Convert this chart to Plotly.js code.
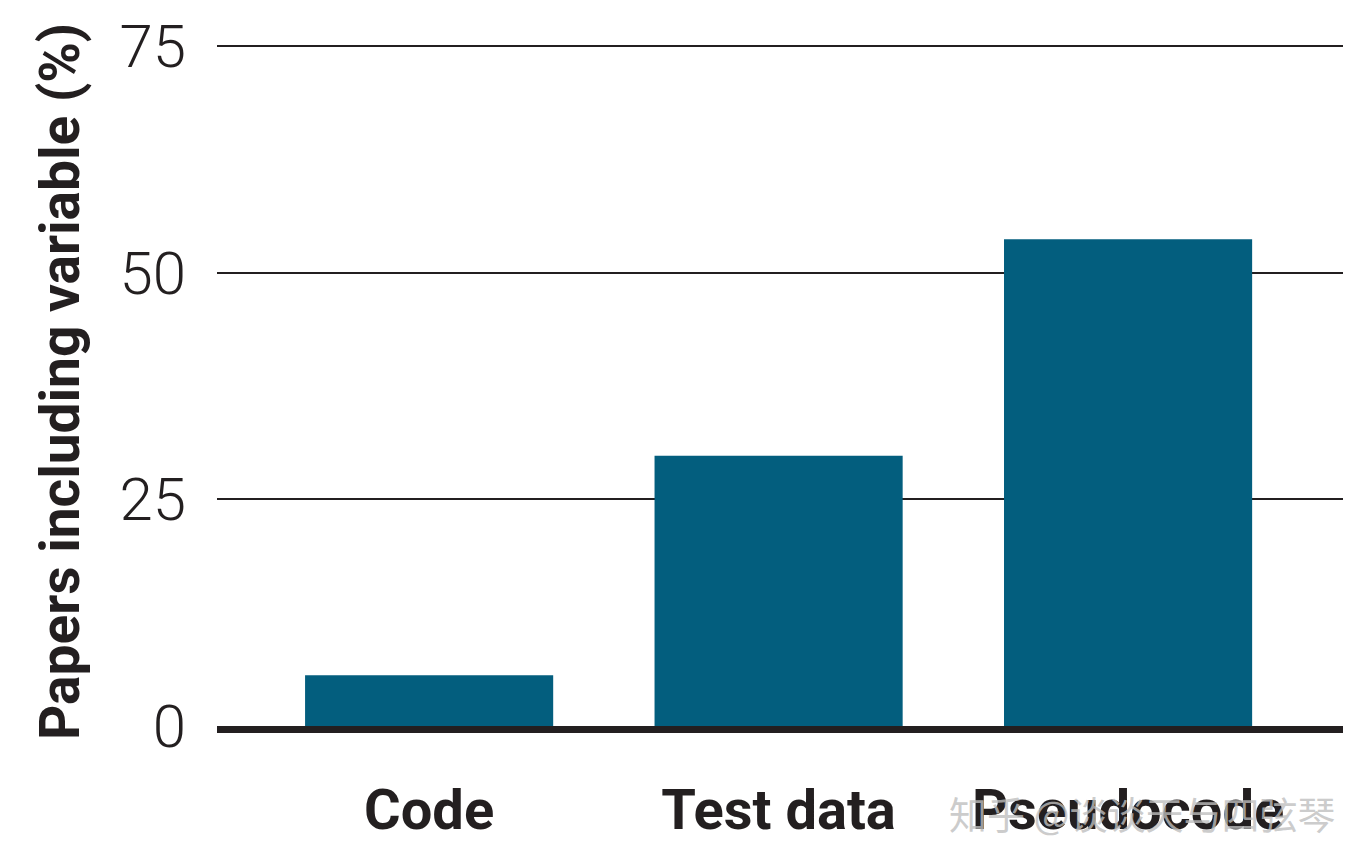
<!DOCTYPE html>
<html>
<head>
<meta charset="utf-8">
<script src="https://cdn.plot.ly/plotly-3.0.1.min.js"></script>
<style>html,body{margin:0;padding:0;background:#fff;}#chart{width:1364px;height:866px;}</style>
</head>
<body>
<div id="chart"></div>
<script>
const categories = ["Code", "Test data", "Pseudocode"];
const values = [5.6, 29.8, 53.7];
const yTicks = [0, 25, 50, 75];
const yTickLabels = ["0", "25", "50", "75"];
const yTitle = "Papers including variable (%)";
const watermark = "知乎 @谈谈天与四弦琴";

const ink = "#231f20";
const fam = "Roboto, 'DejaVu Sans Condensed', sans-serif";
const trace = {
  type: "bar",
  x: categories,
  y: values,
  marker: {color: "#035e7e", line: {width: 0}},
  hoverinfo: "x+y"
};

const layout = {
  width: 1364, height: 866,
  margin: {l: 217, r: 21, t: 37, b: 140},
  paper_bgcolor: "#fff", plot_bgcolor: "#fff",
  showlegend: false,
  bargap: 0.29,
  xaxis: {
    type: "category",
    range: [-0.607, 2.615],
    showgrid: false, zeroline: false,
    showline: true, linewidth: 7, linecolor: ink,
    ticks: "", ticklabelstandoff: 29,
    tickfont: {family: fam, size: 56, color: ink, weight: "bold"},
    fixedrange: true
  },
  yaxis: {
    range: [0, 76],
    tickvals: yTicks, ticktext: yTickLabels,
    showgrid: true, gridcolor: ink, gridwidth: 2,
    zeroline: false, showline: false,
    ticks: "", ticklabelstandoff: 30,
    tickfont: {family: fam, size: 60, color: ink, weight: 300},
    title: {text: yTitle, standoff: 22,
            font: {family: fam, size: 55, color: ink, weight: "bold"}},
    fixedrange: true
  },
  annotations: [{
    text: watermark, xref: "paper", yref: "paper",
    x: 0.995, y: -0.125, xanchor: "right", yanchor: "middle",
    showarrow: false,
    font: {family: "Noto Sans CJK SC", size: 38, color: "rgba(190,190,190,0.8)"}
  }]
};

Plotly.newPlot("chart", [trace], layout, {displayModeBar: false, staticPlot: true});
</script>
</body>
</html>
